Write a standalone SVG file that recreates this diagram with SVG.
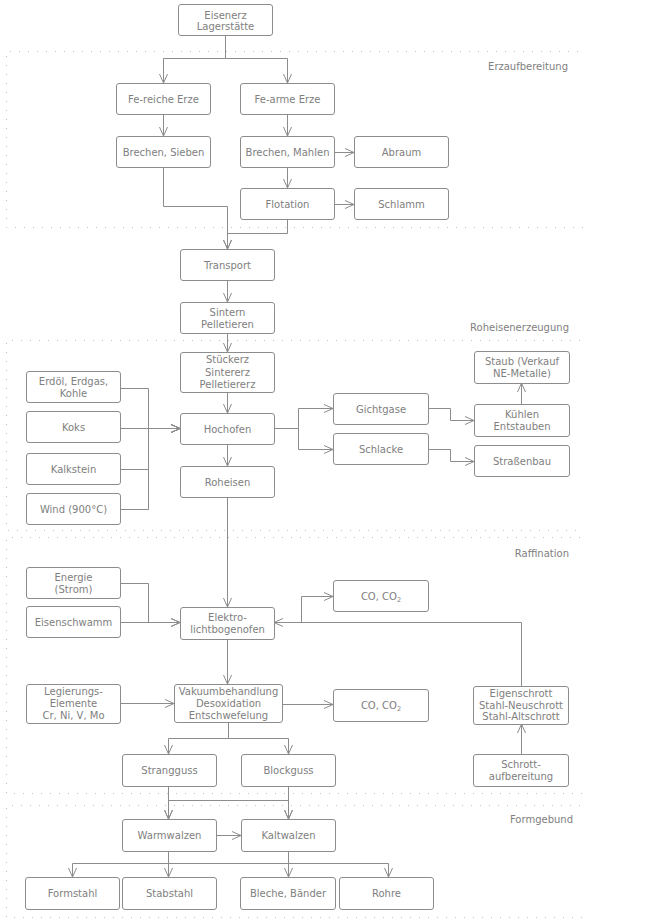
<svg xmlns="http://www.w3.org/2000/svg" width="660" height="924" viewBox="0 0 660 924">
<defs>
<marker id="arr" viewBox="0 0 10 10" refX="10" refY="5" markerWidth="10" markerHeight="10" markerUnits="userSpaceOnUse" orient="auto">
<path d="M1,1 L10,5 L1,9" fill="none" stroke="#8c8c8c" stroke-width="1"/>
</marker>
<style>
.box{fill:#fff;stroke:#8c8c8c;stroke-width:1}
.t{font-family:"DejaVu Sans",Verdana,sans-serif;font-size:10px;fill:#808080;text-anchor:middle}
.lbl{font-family:"DejaVu Sans",Verdana,sans-serif;font-size:10px;fill:#808080;text-anchor:end}
.sec{fill:none;stroke:#c0c0c0;stroke-width:1;stroke-dasharray:1 8}
.c path{fill:none;stroke:#8c8c8c;stroke-width:1;marker-end:url(#arr)}
.c path.n{marker-end:none}
</style>
</defs>
<rect width="660" height="924" fill="#fff"/>
<g id="sections">
<path class="sec" d="M578,51.5 H6.5 V227.5 H584"/>
<path class="sec" d="M580,340.5 H6.5 V530.5 H584"/>
<path class="sec" d="M580,537.5 H6.5 V793.5 H584"/>
<path class="sec" d="M580,805.5 H6.5 V917.5 H584"/>
<text class="lbl" x="568" y="70">Erzaufbereitung</text>
<text class="lbl" x="569" y="331">Roheisenerzeugung</text>
<text class="lbl" x="569" y="557">Raffination</text>
<text class="lbl" x="573" y="823">Formgebund</text>
</g>
<g class="c" id="connectors">
<path d="M225.5,35 V58.5 H163.5 V83"/>
<path d="M225.5,35 V58.5 H287.5 V83"/>
<path d="M163.5,114 V136"/>
<path d="M287.5,114 V136"/>
<path d="M334,152.5 H354"/>
<path d="M287.5,167 V188"/>
<path d="M334,204.5 H354"/>
<path d="M163.5,167 V206.5 H227.5 V249"/>
<path d="M287.5,219 V233.5 H227.5 V249"/>
<path d="M227.5,280 V302"/>
<path d="M227.5,333 V352"/>
<path d="M227.5,392 V413"/>
<path d="M227.5,444 V466"/>
<path d="M120,388.5 H148.5 V428.5 H180"/>
<path d="M120,428.5 H180"/>
<path d="M120,469.5 H148.5 V428.5 H180"/>
<path d="M120,509.5 H148.5 V428.5 H180"/>
<path d="M274,428.5 H298.5 V408.5 H333"/>
<path d="M274,428.5 H298.5 V449.5 H333"/>
<path d="M428,408.5 H450.5 V420.5 H474"/>
<path d="M428,449.5 H450.5 V461.5 H474"/>
<path d="M521.5,404 V383"/>
<path d="M227.5,498 V607"/>
<path d="M120,583.5 H148.5 V622.5 H180"/>
<path d="M120,622.5 H180"/>
<path d="M274,622.5 H301.5 V596.5 H333"/>
<path d="M521.5,686 V622.5 H274"/>
<path d="M227.5,639 V684"/>
<path d="M120,703.5 H174"/>
<path d="M282,704.5 H333"/>
<path d="M521.5,754 V724"/>
<path d="M228.5,722 V738.5 H168.5 V754"/>
<path d="M228.5,722 V738.5 H288.5 V754"/>
<path d="M168.5,786 V819"/>
<path d="M168.5,786 V800.5 H288.5 V819"/>
<path d="M288.5,786 V819"/>
<path d="M288.5,786 V800.5 H168.5 V819"/>
<path d="M216,835.5 H241"/>
<path d="M168.5,851 V863.5 H72.5 V877"/>
<path d="M168.5,851 V877"/>
<path d="M168.5,851 V863.5 H388.5 V877"/>
<path d="M288.5,851 V877"/>
</g>
<g id="n_eisenerz"><rect class="box" x="178.5" y="4.5" width="94" height="31" rx="2.5"/><text class="t" x="225.5" y="18.5">Eisenerz</text><text class="t" x="225.5" y="30">Lagerstätte</text></g>
<g id="n_fereiche"><rect class="box" x="116.5" y="83.5" width="94" height="31" rx="2.5"/><text class="t" x="163.5" y="102.5">Fe-reiche Erze</text></g>
<g id="n_fearme"><rect class="box" x="240.5" y="83.5" width="94" height="31" rx="2.5"/><text class="t" x="287.5" y="102.5">Fe-arme Erze</text></g>
<g id="n_brechensieben"><rect class="box" x="116.5" y="136.5" width="94" height="31" rx="2.5"/><text class="t" x="163.5" y="155.5">Brechen, Sieben</text></g>
<g id="n_brechenmahlen"><rect class="box" x="240.5" y="136.5" width="94" height="31" rx="2.5"/><text class="t" x="287.5" y="155.5">Brechen, Mahlen</text></g>
<g id="n_abraum"><rect class="box" x="354.5" y="136.5" width="94" height="31" rx="2.5"/><text class="t" x="401.5" y="155.5">Abraum</text></g>
<g id="n_flotation"><rect class="box" x="240.5" y="188.5" width="94" height="31" rx="2.5"/><text class="t" x="287.5" y="207.5">Flotation</text></g>
<g id="n_schlamm"><rect class="box" x="354.5" y="188.5" width="94" height="31" rx="2.5"/><text class="t" x="401.5" y="207.5">Schlamm</text></g>
<g id="n_transport"><rect class="box" x="180.5" y="249.5" width="94" height="31" rx="2.5"/><text class="t" x="227.5" y="268.5">Transport</text></g>
<g id="n_sintern"><rect class="box" x="180.5" y="302.5" width="94" height="31" rx="2.5"/><text class="t" x="227.5" y="315.5">Sintern</text><text class="t" x="227.5" y="327.5">Pelletieren</text></g>
<g id="n_stueckerz"><rect class="box" x="180.5" y="352.5" width="94" height="40" rx="2.5"/><text class="t" x="227.5" y="363">Stückerz</text><text class="t" x="227.5" y="375.5">Sintererz</text><text class="t" x="227.5" y="388">Pelletiererz</text></g>
<g id="n_hochofen"><rect class="box" x="180.5" y="413.5" width="94" height="31" rx="2.5"/><text class="t" x="227.5" y="432.5">Hochofen</text></g>
<g id="n_roheisen"><rect class="box" x="180.5" y="466.5" width="94" height="31" rx="2.5"/><text class="t" x="227.5" y="485.5">Roheisen</text></g>
<g id="n_erdoel"><rect class="box" x="26.5" y="371.5" width="94" height="31" rx="2.5"/><text class="t" x="73.5" y="384.5">Erdöl, Erdgas,</text><text class="t" x="73.5" y="396.5">Kohle</text></g>
<g id="n_koks"><rect class="box" x="26.5" y="411.5" width="94" height="31" rx="2.5"/><text class="t" x="73.5" y="430.5">Koks</text></g>
<g id="n_kalkstein"><rect class="box" x="26.5" y="453.5" width="94" height="31" rx="2.5"/><text class="t" x="73.5" y="472.5">Kalkstein</text></g>
<g id="n_wind"><rect class="box" x="26.5" y="493.5" width="94" height="31" rx="2.5"/><text class="t" x="73.5" y="512.5">Wind (900°C)</text></g>
<g id="n_gichtgase"><rect class="box" x="333.5" y="393.5" width="95" height="31" rx="2.5"/><text class="t" x="381" y="412.5">Gichtgase</text></g>
<g id="n_schlacke"><rect class="box" x="333.5" y="433.5" width="95" height="31" rx="2.5"/><text class="t" x="381" y="452.5">Schlacke</text></g>
<g id="n_staub"><rect class="box" x="474.5" y="351.5" width="95" height="32" rx="2.5"/><text class="t" x="522" y="364.5">Staub (Verkauf</text><text class="t" x="522" y="376.5">NE-Metalle)</text></g>
<g id="n_kuehlen"><rect class="box" x="474.5" y="404.5" width="95" height="32" rx="2.5"/><text class="t" x="522" y="417.5">Kühlen</text><text class="t" x="522" y="429.5">Entstauben</text></g>
<g id="n_strassenbau"><rect class="box" x="474.5" y="445.5" width="95" height="31" rx="2.5"/><text class="t" x="522" y="464.5">Straßenbau</text></g>
<g id="n_energie"><rect class="box" x="26.5" y="567.5" width="94" height="31" rx="2.5"/><text class="t" x="73.5" y="580.5">Energie</text><text class="t" x="73.5" y="592.5">(Strom)</text></g>
<g id="n_eisenschwamm"><rect class="box" x="26.5" y="606.5" width="94" height="31" rx="2.5"/><text class="t" x="73.5" y="625.5">Eisenschwamm</text></g>
<g id="n_elektro"><rect class="box" x="180.5" y="607.5" width="94" height="32" rx="2.5"/><text class="t" x="227.5" y="620.5">Elektro-</text><text class="t" x="227.5" y="632.5">lichtbogenofen</text></g>
<g id="n_co1"><rect class="box" x="333.5" y="580.5" width="95" height="31" rx="2.5"/><text class="t" x="381" y="599.5">CO, CO<tspan font-size="6.5" dy="2">2</tspan></text></g>
<g id="n_legierung"><rect class="box" x="26.5" y="684.5" width="94" height="39" rx="2.5"/><text class="t" x="73.5" y="694.5">Legierungs-</text><text class="t" x="73.5" y="706.5">Elemente</text><text class="t" x="73.5" y="718.5">Cr, Ni, V, Mo</text></g>
<g id="n_vakuum"><rect class="box" x="174.5" y="684.5" width="108" height="38" rx="2.5"/><text class="t" x="228.5" y="694.5">Vakuumbehandlung</text><text class="t" x="228.5" y="706.5">Desoxidation</text><text class="t" x="228.5" y="718.5">Entschwefelung</text></g>
<g id="n_co2"><rect class="box" x="333.5" y="689.5" width="95" height="32" rx="2.5"/><text class="t" x="381" y="708.5">CO, CO<tspan font-size="6.5" dy="2">2</tspan></text></g>
<g id="n_eigenschrott"><rect class="box" x="473.5" y="686.5" width="95" height="38" rx="2.5"/><text class="t" x="521" y="696.5">Eigenschrott</text><text class="t" x="521" y="708.5">Stahl-Neuschrott</text><text class="t" x="521" y="720">Stahl-Altschrott</text></g>
<g id="n_schrott"><rect class="box" x="473.5" y="754.5" width="95" height="32" rx="2.5"/><text class="t" x="521" y="767.5">Schrott-</text><text class="t" x="521" y="779.5">aufbereitung</text></g>
<g id="n_strangguss"><rect class="box" x="122.5" y="754.5" width="94" height="32" rx="2.5"/><text class="t" x="169.5" y="773.5">Strangguss</text></g>
<g id="n_blockguss"><rect class="box" x="241.5" y="754.5" width="94" height="32" rx="2.5"/><text class="t" x="288.5" y="773.5">Blockguss</text></g>
<g id="n_warmwalzen"><rect class="box" x="122.5" y="819.5" width="94" height="32" rx="2.5"/><text class="t" x="169.5" y="838.5">Warmwalzen</text></g>
<g id="n_kaltwalzen"><rect class="box" x="241.5" y="819.5" width="94" height="32" rx="2.5"/><text class="t" x="288.5" y="838.5">Kaltwalzen</text></g>
<g id="n_formstahl"><rect class="box" x="25.5" y="877.5" width="94" height="32" rx="2.5"/><text class="t" x="72.5" y="896.5">Formstahl</text></g>
<g id="n_stabstahl"><rect class="box" x="122.5" y="877.5" width="94" height="32" rx="2.5"/><text class="t" x="169.5" y="896.5">Stabstahl</text></g>
<g id="n_bleche"><rect class="box" x="240.5" y="877.5" width="95" height="32" rx="2.5"/><text class="t" x="288" y="896.5">Bleche, Bänder</text></g>
<g id="n_rohre"><rect class="box" x="339.5" y="877.5" width="94" height="32" rx="2.5"/><text class="t" x="386.5" y="896.5">Rohre</text></g>
</svg>
